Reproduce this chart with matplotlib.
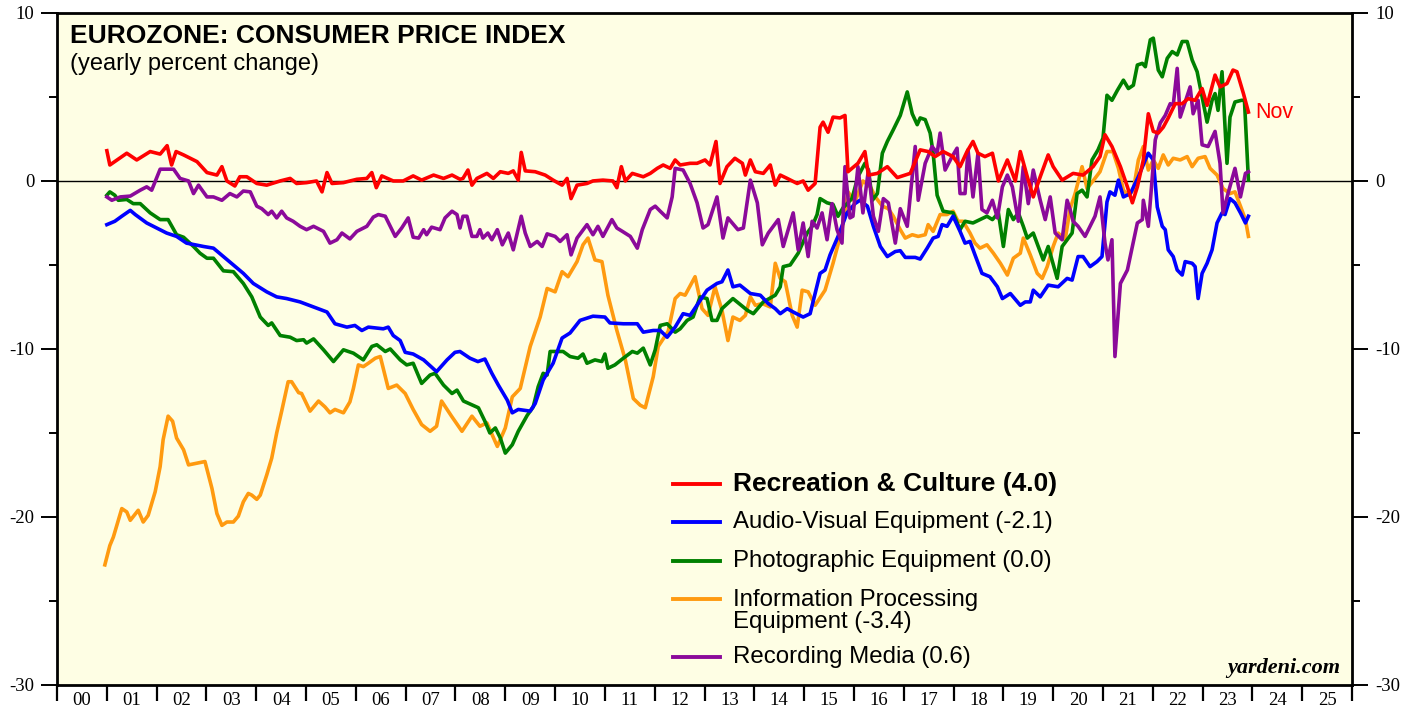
import matplotlib.pyplot as plt
from matplotlib.ticker import MultipleLocator

plt.rcParams["axes.unicode_minus"] = False
plt.rcParams["font.family"] = "serif"
plt.rcParams["font.serif"] = ["Liberation Serif", "DejaVu Serif"]

SANS = "Liberation Sans"

years = list(range(2000, 2026))
year_labels = [f"{y % 100:02d}" for y in years]

# Recreation & Culture
rec_x = [2001.00, 2001.06, 2001.40, 2001.60, 2001.87, 2002.07, 2002.21, 2002.30, 2002.39, 2002.54,
         2002.81, 2003.01, 2003.21, 2003.31, 2003.41, 2003.57, 2003.67, 2003.81, 2004.01, 2004.21,
         2004.48, 2004.68, 2004.81, 2005.01, 2005.21, 2005.32, 2005.42, 2005.52, 2005.75, 2006.02,
         2006.22, 2006.32, 2006.41, 2006.52, 2006.75, 2006.95, 2007.15, 2007.32, 2007.56, 2007.76,
         2007.93, 2008.09, 2008.15, 2008.25, 2008.33, 2008.43, 2008.63, 2008.76, 2008.90, 2009.06,
         2009.16, 2009.26, 2009.32, 2009.40, 2009.60, 2009.80, 2009.96, 2010.14, 2010.24, 2010.32,
         2010.44, 2010.64, 2010.76, 2010.96, 2011.16, 2011.24, 2011.33, 2011.41, 2011.55, 2011.77,
         2011.91, 2012.05, 2012.17, 2012.31, 2012.41, 2012.51, 2012.71, 2012.85, 2013.01, 2013.11,
         2013.23, 2013.31, 2013.45, 2013.61, 2013.76, 2013.82, 2013.92, 2014.02, 2014.18, 2014.32,
         2014.42, 2014.52, 2014.66, 2014.86, 2014.98, 2015.08, 2015.22, 2015.32, 2015.38, 2015.48,
         2015.58, 2015.72, 2015.82, 2015.88, 2016.08, 2016.22, 2016.29, 2016.47, 2016.67, 2016.87,
         2017.13, 2017.33, 2017.49, 2017.63, 2017.79, 2017.99, 2018.13, 2018.27, 2018.39, 2018.49,
         2018.63, 2018.78, 2018.90, 2019.08, 2019.24, 2019.34, 2019.48, 2019.60, 2019.74, 2019.90,
         2020.00, 2020.18, 2020.40, 2020.60, 2020.80, 2020.94, 2021.04, 2021.18, 2021.35, 2021.49,
         2021.59, 2021.69, 2021.81, 2021.91, 2022.01, 2022.11, 2022.21, 2022.31, 2022.45, 2022.59,
         2022.71, 2022.85, 2022.99, 2023.09, 2023.25, 2023.35, 2023.49, 2023.61, 2023.69, 2023.82,
         2023.92]
rec_y = [1.8, 0.95, 1.65, 1.25, 1.75, 1.6, 2.1, 0.95, 1.75, 1.55,
         1.15, 0.5, 0.35, 0.85, 0.0, -0.3, 0.25, 0.25, -0.15, -0.25,
         0.0, 0.15, -0.15, -0.1, 0.0, -0.65, 0.5, -0.15, -0.1, 0.1,
         0.15, 0.5, -0.4, 0.3, 0.0, 0.0, 0.3, 0.05, 0.35, 0.15,
         0.35, 0.1, 0.15, 0.65, -0.25, 0.15, 0.45, 0.15, 0.55, 0.45,
         0.6, 0.05, 1.7, 0.6, 0.55, 0.35, 0.05, -0.25, 0.15, -1.05,
         -0.25, -0.15, 0.0, 0.05, 0.0, -0.4, 0.85, 0.0, 0.45, 0.25,
         0.45, 0.75, 0.95, 0.75, 1.25, 0.95, 1.05, 1.05, 1.25, 0.95,
         2.35, -0.15, 0.85, 1.35, 1.05, 0.35, 1.25, 0.55, 0.45, 0.95,
         -0.25, 0.35, 0.15, -0.15, 0.0, -0.55, -0.15, 3.2, 3.5, 2.9,
         3.8, 3.75, 3.9, 0.55, 1.05, 1.75, 0.35, 0.45, 0.85, 0.2,
         0.45, 1.85, 1.75, 1.45, 1.75, 1.45, 0.85, 1.75, 2.35, 1.65,
         1.45, 1.65, 0.0, 1.25, 0.0, 1.75, 0.25, -0.95, 0.25, 1.55,
         0.85, 0.05, 0.45, 0.35, 0.85, 1.45, 2.75, 2.05, 0.85, -0.35,
         -1.3, -0.35, 1.25, 4.0, 2.95, 2.85, 3.2, 3.75, 4.6, 4.6,
         4.9, 4.8, 5.5, 4.5, 6.3, 5.6, 5.8, 6.6, 6.5, 5.2,
         4.1]

# Audio-Visual Equipment
av_x = [2001.00, 2001.16, 2001.30, 2001.47, 2001.57, 2001.80, 2002.00, 2002.20, 2002.40, 2002.60,
        2002.94, 2003.14, 2003.34, 2003.54, 2003.74, 2003.94, 2004.21, 2004.41, 2004.61, 2004.88,
        2005.15, 2005.42, 2005.58, 2005.82, 2005.98, 2006.12, 2006.25, 2006.55, 2006.65, 2006.75,
        2006.89, 2006.99, 2007.15, 2007.36, 2007.62, 2007.83, 2007.99, 2008.09, 2008.29, 2008.45,
        2008.59, 2008.73, 2008.86, 2009.04, 2009.14, 2009.26, 2009.50, 2009.60, 2009.76, 2009.96,
        2010.14, 2010.30, 2010.50, 2010.76, 2011.00, 2011.10, 2011.37, 2011.65, 2011.77, 2011.97,
        2012.11, 2012.25, 2012.41, 2012.57, 2012.71, 2012.87, 2013.05, 2013.25, 2013.35, 2013.47,
        2013.57, 2013.71, 2013.92, 2014.12, 2014.28, 2014.42, 2014.52, 2014.66, 2014.78, 2014.98,
        2015.12, 2015.22, 2015.32, 2015.42, 2015.52, 2015.68, 2015.86, 2016.02, 2016.12, 2016.27,
        2016.39, 2016.53, 2016.67, 2016.83, 2016.93, 2017.03, 2017.23, 2017.33, 2017.47, 2017.59,
        2017.69, 2017.77, 2017.87, 2017.99, 2018.13, 2018.23, 2018.33, 2018.43, 2018.57, 2018.73,
        2018.88, 2018.98, 2019.14, 2019.34, 2019.44, 2019.54, 2019.60, 2019.74, 2019.90, 2020.10,
        2020.28, 2020.38, 2020.50, 2020.60, 2020.74, 2020.88, 2020.98, 2021.08, 2021.14, 2021.24,
        2021.31, 2021.41, 2021.55, 2021.71, 2021.85, 2021.91, 2022.01, 2022.09, 2022.19, 2022.25,
        2022.31, 2022.41, 2022.49, 2022.59, 2022.65, 2022.79, 2022.85, 2022.91, 2022.99, 2023.09,
        2023.19, 2023.29, 2023.39, 2023.45, 2023.55, 2023.65, 2023.76, 2023.86, 2023.92]
av_y = [-2.6, -2.4, -2.1, -1.75, -2.0, -2.5, -2.8, -3.1, -3.3, -3.7,
        -3.9, -4.0, -4.5, -5.0, -5.5, -6.1, -6.6, -6.9, -7.0, -7.2,
        -7.5, -7.8, -8.5, -8.7, -8.6, -8.9, -8.7, -8.8, -8.7, -9.2,
        -9.5, -10.2, -10.3, -10.65, -11.35, -10.65, -10.2, -10.15, -10.55, -10.75,
        -10.6, -11.45, -12.15, -13.05, -13.8, -13.6, -13.7, -13.25, -11.85, -10.85,
        -9.35, -9.05, -8.3, -8.05, -8.1, -8.45, -8.5, -8.5, -9.0, -8.9,
        -8.9, -9.3, -8.7, -7.9, -8.0, -7.3, -6.5, -6.1, -6.0, -5.3,
        -6.3, -6.2, -6.7, -6.8, -7.3, -7.6, -7.9, -7.6, -7.8, -8.1,
        -7.9, -6.7, -5.5, -5.3, -4.4, -3.3, -1.9, -1.35, -1.15, -1.5,
        -2.7, -3.9, -4.5, -4.2, -4.15, -4.55, -4.55, -4.65, -4.0, -3.4,
        -3.3, -2.6, -2.7, -2.1, -3.0, -3.7, -3.6, -4.4, -5.5, -5.7,
        -6.3, -7.0, -6.7, -7.4, -7.2, -7.2, -6.5, -6.9, -6.2, -6.3,
        -5.8, -5.9, -4.5, -4.5, -5.1, -4.8, -4.5, -1.25, -0.65, -0.85,
        0.05, -0.95, -0.75, 0.25, 1.25, 1.65, 1.25, -1.55, -2.7, -2.9,
        -4.1, -4.5, -5.3, -5.6, -4.8, -4.9, -5.1, -7.0, -5.5, -4.9,
        -4.1, -2.5, -1.9, -2.0, -1.05, -1.3, -1.9, -2.5, -2.1]

# Photographic Equipment
ph_x = [2001.00, 2001.06, 2001.16, 2001.23, 2001.40, 2001.53, 2001.67, 2001.87, 2002.07, 2002.23,
        2002.40, 2002.54, 2002.74, 2002.87, 2003.01, 2003.14, 2003.34, 2003.54, 2003.74, 2003.91,
        2004.08, 2004.24, 2004.31, 2004.48, 2004.68, 2004.81, 2004.95, 2005.01, 2005.15, 2005.35,
        2005.55, 2005.75, 2005.95, 2006.15, 2006.32, 2006.42, 2006.59, 2006.69, 2006.89, 2007.02,
        2007.15, 2007.32, 2007.49, 2007.59, 2007.76, 2007.93, 2008.03, 2008.16, 2008.46, 2008.59,
        2008.69, 2008.80, 2008.90, 2009.00, 2009.14, 2009.26, 2009.44, 2009.56, 2009.66, 2009.76,
        2009.84, 2009.90, 2010.16, 2010.30, 2010.46, 2010.56, 2010.64, 2010.80, 2010.94, 2011.00,
        2011.06, 2011.20, 2011.37, 2011.55, 2011.65, 2011.77, 2011.91, 2012.01, 2012.11, 2012.25,
        2012.41, 2012.51, 2012.65, 2012.77, 2012.91, 2013.05, 2013.15, 2013.25, 2013.35, 2013.57,
        2013.86, 2013.98, 2014.18, 2014.42, 2014.52, 2014.58, 2014.72, 2014.88, 2015.06, 2015.16,
        2015.26, 2015.32, 2015.46, 2015.58, 2015.68, 2015.78, 2015.96, 2016.08, 2016.22, 2016.29,
        2016.37, 2016.47, 2016.57, 2016.67, 2016.79, 2016.93, 2017.07, 2017.17, 2017.27, 2017.33,
        2017.43, 2017.53, 2017.59, 2017.67, 2017.79, 2017.99, 2018.13, 2018.23, 2018.39, 2018.67,
        2018.78, 2018.90, 2019.00, 2019.10, 2019.20, 2019.30, 2019.40, 2019.48, 2019.60, 2019.80,
        2019.90, 2020.08, 2020.18, 2020.28, 2020.38, 2020.48, 2020.58, 2020.68, 2020.78, 2020.90,
        2021.00, 2021.08, 2021.18, 2021.29, 2021.41, 2021.51, 2021.61, 2021.69, 2021.79, 2021.85,
        2021.95, 2022.01, 2022.11, 2022.19, 2022.29, 2022.39, 2022.49, 2022.59, 2022.69, 2022.79,
        2022.89, 2022.99, 2023.09, 2023.19, 2023.25, 2023.31, 2023.39, 2023.49, 2023.55, 2023.65,
        2023.78, 2023.84, 2023.92]
ph_y = [-0.85, -0.65, -0.85, -1.15, -1.1, -1.35, -1.35, -1.9, -2.3, -2.3,
        -3.2, -3.35, -3.9, -4.3, -4.6, -4.6, -5.35, -5.4, -6.1, -6.9,
        -8.1, -8.6, -8.45, -9.2, -9.3, -9.5, -9.45, -9.65, -9.4, -10.05,
        -10.75, -10.05, -10.25, -10.65, -9.85, -9.75, -10.15, -10.0, -10.65, -10.95,
        -10.85, -12.05, -11.55, -11.45, -12.15, -12.65, -12.45, -13.1, -13.5, -14.3,
        -15.0, -14.7, -15.3, -16.2, -15.7, -14.9, -13.95, -13.45, -12.25, -11.45,
        -11.55, -10.15, -10.15, -10.45, -10.55, -10.3, -10.85, -10.65, -10.75, -10.3,
        -11.15, -10.95, -10.55, -10.15, -10.25, -9.95, -10.95, -10.05, -8.6, -8.5,
        -9.0, -8.8, -8.3, -8.1, -6.9, -7.0, -8.3, -8.3, -7.6, -7.0,
        -7.7, -7.9, -7.2, -6.8, -6.3, -5.1, -5.0, -4.3, -3.1, -2.7,
        -2.0, -1.05, -1.3, -1.4, -2.1, -1.6, -1.05, 0.25, 1.05, 0.65,
        -1.15, -0.75, 1.65, 2.35, 3.05, 3.9, 5.3, 4.0, 3.35, 3.75,
        3.65, 2.85, 1.65, -0.85, -1.8, -1.9, -2.9, -2.4, -2.5, -2.1,
        -2.3, -1.9, -3.9, -1.7, -2.3, -1.9, -2.7, -3.4, -3.1, -4.7,
        -3.9, -5.8, -3.9, -3.5, -3.1, -0.75, -0.55, -0.95, 1.25, 1.85,
        2.55, 5.1, 4.8, 5.4, 6.0, 5.5, 5.7, 6.9, 7.0, 6.8,
        8.4, 8.5, 6.6, 6.2, 7.3, 7.7, 7.5, 8.3, 8.3, 7.2,
        6.5, 5.0, 3.5, 4.8, 5.2, 4.2, 6.5, 1.05, 3.8, 4.7,
        4.8, 4.8, 0.05]

# Information Processing Equipment
ip_x = [2000.96, 2001.06, 2001.13, 2001.30, 2001.40, 2001.47, 2001.63, 2001.73, 2001.83, 2001.97,
        2002.07, 2002.13, 2002.23, 2002.32, 2002.40, 2002.54, 2002.64, 2002.97, 2003.11, 2003.21,
        2003.31, 2003.41, 2003.54, 2003.64, 2003.74, 2003.84, 2003.91, 2004.01, 2004.08, 2004.21,
        2004.31, 2004.41, 2004.51, 2004.64, 2004.71, 2004.85, 2004.91, 2005.08, 2005.25, 2005.38,
        2005.48, 2005.58, 2005.75, 2005.88, 2005.95, 2006.05, 2006.15, 2006.25, 2006.39, 2006.49,
        2006.65, 2006.82, 2006.99, 2007.15, 2007.32, 2007.49, 2007.62, 2007.72, 2007.92, 2008.13,
        2008.33, 2008.49, 2008.63, 2008.84, 2009.00, 2009.14, 2009.30, 2009.50, 2009.70, 2009.84,
        2010.00, 2010.14, 2010.26, 2010.44, 2010.56, 2010.66, 2010.80, 2010.94, 2011.06, 2011.24,
        2011.41, 2011.57, 2011.71, 2011.81, 2011.97, 2012.07, 2012.27, 2012.41, 2012.51, 2012.61,
        2012.81, 2012.95, 2013.07, 2013.21, 2013.35, 2013.47, 2013.57, 2013.71, 2013.82, 2013.92,
        2014.02, 2014.16, 2014.32, 2014.42, 2014.52, 2014.62, 2014.76, 2014.86, 2014.96, 2015.08,
        2015.22, 2015.42, 2015.58, 2015.76, 2015.88, 2016.02, 2016.18, 2016.33, 2016.43, 2016.57,
        2016.69, 2016.79, 2016.93, 2017.03, 2017.17, 2017.29, 2017.43, 2017.49, 2017.59, 2017.73,
        2017.87, 2017.99, 2018.09, 2018.19, 2018.33, 2018.43, 2018.53, 2018.67, 2018.80, 2018.94,
        2019.08, 2019.20, 2019.34, 2019.40, 2019.54, 2019.68, 2019.78, 2019.88, 2020.00, 2020.10,
        2020.24, 2020.34, 2020.44, 2020.58, 2020.68, 2020.80, 2020.94, 2021.08, 2021.20, 2021.31,
        2021.41, 2021.51, 2021.61, 2021.71, 2021.81, 2021.91, 2022.01, 2022.11, 2022.21, 2022.31,
        2022.41, 2022.55, 2022.69, 2022.79, 2022.91, 2023.05, 2023.15, 2023.29, 2023.41, 2023.55,
        2023.65, 2023.76, 2023.86, 2023.92]
ip_y = [-22.85, -21.7, -21.2, -19.5, -19.7, -20.2, -19.6, -20.3, -19.9, -18.5,
        -17.0, -15.4, -14.0, -14.3, -15.3, -16.0, -16.9, -16.7, -18.3, -19.8,
        -20.5, -20.3, -20.3, -19.95, -19.1, -18.6, -18.7, -18.95, -18.7, -17.5,
        -16.5, -15.0, -13.7, -11.95, -11.95, -12.6, -12.65, -13.7, -13.1, -13.45,
        -13.8, -13.6, -13.8, -13.15, -12.35, -10.95, -11.05, -10.85, -10.55, -10.45,
        -12.35, -12.15, -12.65, -13.6, -14.5, -14.9, -14.6, -13.1, -14.0, -14.9,
        -14.0, -14.6, -14.4, -15.8, -14.7, -12.85, -12.35, -9.85, -8.1, -6.4,
        -6.6, -5.4, -5.7, -4.8, -3.8, -3.4, -4.7, -4.8, -6.8, -8.9,
        -10.65, -12.95, -13.35, -13.5, -11.65, -9.85, -8.95, -7.0, -6.7, -6.8,
        -5.7, -7.6, -8.0, -6.3, -7.7, -9.5, -8.1, -8.3, -8.0, -6.9,
        -7.4, -7.3, -7.5, -4.9, -5.8, -6.0, -8.0, -8.7, -6.5, -6.6,
        -7.4, -6.5, -4.9, -2.9, -0.65, -1.25, 0.0, -0.35, -0.95, -1.5,
        -1.65, -2.1, -2.9, -3.4, -3.2, -3.3, -3.2, -2.6, -3.0, -2.0,
        -2.0, -1.8, -2.4, -2.4, -3.1, -3.7, -4.0, -3.8, -4.3, -4.9,
        -5.6, -4.6, -4.3, -3.4, -4.4, -5.5, -5.8, -5.1, -3.9, -3.1,
        -3.5, -1.65, -0.75, 0.85, -0.45, 0.0, 0.55, 1.75, 1.75, 0.75,
        -0.55, -0.85, -0.55, 1.25, 2.05, 0.65, 1.25, 0.75, 1.55, 0.95,
        1.35, 1.25, 1.45, 0.85, 1.35, 1.45, 0.75, 0.35, -0.45, -0.75,
        -0.65, -1.5, -2.3, -3.3]

# Recording Media
rm_x = [2001.00, 2001.10, 2001.27, 2001.47, 2001.67, 2001.80, 2001.90, 2002.07, 2002.34, 2002.47,
        2002.64, 2002.74, 2002.84, 2003.01, 2003.14, 2003.31, 2003.47, 2003.61, 2003.74, 2003.88,
        2004.01, 2004.11, 2004.24, 2004.31, 2004.41, 2004.51, 2004.61, 2004.74, 2004.88, 2005.01,
        2005.15, 2005.35, 2005.48, 2005.62, 2005.72, 2005.88, 2006.02, 2006.22, 2006.35, 2006.45,
        2006.59, 2006.79, 2006.92, 2007.05, 2007.15, 2007.26, 2007.36, 2007.42, 2007.52, 2007.69,
        2007.79, 2007.93, 2008.03, 2008.09, 2008.15, 2008.23, 2008.33, 2008.43, 2008.49, 2008.55,
        2008.65, 2008.73, 2008.84, 2008.94, 2009.06, 2009.16, 2009.32, 2009.40, 2009.50, 2009.64,
        2009.74, 2009.84, 2010.00, 2010.10, 2010.24, 2010.32, 2010.44, 2010.64, 2010.76, 2010.86,
        2010.96, 2011.14, 2011.24, 2011.35, 2011.51, 2011.65, 2011.75, 2011.91, 2012.01, 2012.11,
        2012.25, 2012.35, 2012.41, 2012.57, 2012.71, 2012.85, 2012.97, 2013.07, 2013.25, 2013.37,
        2013.47, 2013.67, 2013.78, 2013.92, 2014.06, 2014.16, 2014.28, 2014.48, 2014.58, 2014.78,
        2014.88, 2014.98, 2015.08, 2015.16, 2015.26, 2015.36, 2015.46, 2015.56, 2015.66, 2015.76,
        2015.82, 2015.92, 2015.98, 2016.08, 2016.18, 2016.29, 2016.39, 2016.49, 2016.59, 2016.69,
        2016.83, 2016.93, 2017.07, 2017.23, 2017.29, 2017.43, 2017.57, 2017.67, 2017.73, 2017.83,
        2017.97, 2018.07, 2018.13, 2018.23, 2018.29, 2018.39, 2018.49, 2018.57, 2018.67, 2018.78,
        2018.88, 2018.98, 2019.08, 2019.18, 2019.30, 2019.40, 2019.50, 2019.60, 2019.74, 2019.84,
        2019.94, 2020.04, 2020.18, 2020.28, 2020.34, 2020.40, 2020.50, 2020.64, 2020.74, 2020.84,
        2020.94, 2021.04, 2021.10, 2021.18, 2021.24, 2021.35, 2021.49, 2021.59, 2021.69, 2021.79,
        2021.81, 2021.91, 2022.05, 2022.15, 2022.25, 2022.35, 2022.41, 2022.49, 2022.55, 2022.65,
        2022.75, 2022.81, 2022.91, 2022.99, 2023.11, 2023.25, 2023.35, 2023.41, 2023.51, 2023.65,
        2023.76, 2023.86, 2023.92]
rm_y = [-0.95, -1.15, -0.95, -0.9, -0.55, -0.35, -0.55, 0.7, 0.7, 0.15,
        0.0, -0.75, -0.25, -0.95, -0.95, -1.15, -0.75, -0.95, -0.6, -0.65,
        -1.5, -1.65, -2.0, -1.8, -2.2, -1.8, -2.2, -2.4, -2.7, -2.9,
        -2.7, -3.0, -3.7, -3.5, -3.1, -3.45, -3.0, -2.7, -2.15, -2.0,
        -2.1, -3.3, -2.8, -2.2, -3.35, -3.4, -2.9, -3.2, -2.75, -2.9,
        -2.2, -1.8, -2.0, -2.8, -2.1, -2.1, -3.3, -3.3, -2.9, -3.4,
        -3.1, -3.5, -2.9, -3.8, -3.1, -4.1, -2.1, -3.1, -3.9, -3.6,
        -3.9, -3.15, -3.3, -3.6, -3.2, -4.4, -3.4, -2.6, -3.2, -2.7,
        -3.3, -2.3, -2.8, -3.0, -3.3, -4.0, -2.9, -1.7, -1.5, -1.8,
        -2.2, -0.95, 0.75, 0.65, -0.15, -1.3, -2.8, -2.6, -0.95, -3.4,
        -2.2, -2.9, -2.8, 0.05, -1.3, -3.8, -3.1, -2.3, -3.9, -1.9,
        -4.1, -2.5, -4.5, -2.4, -2.8, -1.9, -3.5, -1.35, -2.9, -3.7,
        0.85, -2.2, -2.1, 0.85, -1.9, 0.65, -2.1, -3.0, -1.05, -1.3,
        -3.7, -1.65, -2.7, 2.05, -1.15, 1.05, 2.05, 1.65, 2.85, 0.65,
        1.45, 1.95, -0.75, -0.75, 1.85, -0.95, 1.65, -1.7, -1.9, -1.15,
        -2.2, -0.35, 0.35, -0.35, -2.4, 0.85, -1.35, 0.65, -1.15, -2.3,
        -0.95, -3.1, -3.5, -1.15, -1.7, -2.4, -2.7, -3.3, -2.7, -2.1,
        -0.95, -3.7, -4.7, -3.5, -10.45, -6.1, -5.3, -3.9, -2.5, -2.3,
        -1.15, -2.7, 2.45, 3.45, 3.9, 4.6, 4.5, 6.7, 3.8, 4.7,
        5.6, 4.0, 4.8, 2.15, 2.05, 2.95, 1.05, -1.9, -0.75, 0.75,
        -0.95, 0.45, 0.55]

series = [
    ("Information Processing\nEquipment (-3.4)", ip_x, ip_y, "#ff9a10"),
    ("Photographic Equipment (0.0)", ph_x, ph_y, "#008000"),
    ("Audio-Visual Equipment (-2.1)", av_x, av_y, "#0000ff"),
    ("Recording Media (0.6)", rm_x, rm_y, "#8b0a9a"),
    ("Recreation & Culture (4.0)", rec_x, rec_y, "#ff0000"),
]

fig = plt.figure(figsize=(14.19, 7.19), dpi=100)
ax = fig.add_axes([0.0402, 0.0473, 0.9126, 0.9347])
ax.set_facecolor("#fefee4")

ax.axhline(0, color="black", lw=1.0, zorder=1)
for label, xs, ys, color in series:
    ax.plot(xs, ys, color=color, lw=2.6, solid_joinstyle="round", zorder=2)

ax.set_xlim(2000, 2026)
ax.set_ylim(-30, 10)

for sp in ax.spines.values():
    sp.set_linewidth(2.0)

# y axis on both sides
ax.yaxis.set_major_locator(MultipleLocator(10))
ax.yaxis.set_minor_locator(MultipleLocator(5))
ax.tick_params(axis="y", which="both", direction="out", left=True, right=True,
               labelleft=True, labelright=True)
ax.tick_params(axis="y", which="major", length=11.5, width=1.4, pad=5, labelsize=13.5)
ax.tick_params(axis="y", which="minor", length=5.5, width=1.4)

# x axis: tick marks at year boundaries, labels mid-year
ax.set_xticks(range(2000, 2027))
ax.set_xticklabels([])
ax.set_xticks([y + 0.5 for y in years], minor=True)
ax.set_xticklabels(year_labels, minor=True)
ax.tick_params(axis="x", which="major", direction="out", length=11.5, width=1.6)
ax.tick_params(axis="x", which="minor", length=0, pad=5, labelsize=13.5)

ax.text(0.010, 0.983, "EUROZONE: CONSUMER PRICE INDEX", transform=ax.transAxes,
        ha="left", va="top", fontsize=19, fontweight="bold", family=SANS)
ax.text(0.010, 0.940, "(yearly percent change)", transform=ax.transAxes,
        ha="left", va="top", fontsize=17, family=SANS)

ax.annotate("Nov", xy=(rec_x[-1], rec_y[-1]), xytext=(5, 0), textcoords="offset points",
            ha="left", va="center", color="#ff0000", fontsize=15.5, family=SANS)

ax.text(0.9907, 0.010, "yardeni.com", transform=ax.transAxes, ha="right", va="bottom",
        fontsize=16, fontweight="bold", style="italic")

# legend drawn by hand so the two-line entry keeps its swatch on the first line
legend_rows = [
    ("Recreation & Culture (4.0)", "#ff0000", 0.299, 0.299, True),
    ("Audio-Visual Equipment (-2.1)", "#0000ff", 0.2426, 0.2426, False),
    ("Photographic Equipment (0.0)", "#008000", 0.1845, 0.1845, False),
    ("Information Processing\nEquipment (-3.4)", "#ff9a10", 0.128, 0.110, False),
    ("Recording Media (0.6)", "#8b0a9a", 0.0417, 0.0417, False),
]
for text, color, y_line, y_text, bold in legend_rows:
    ax.plot([0.4757, 0.512], [y_line, y_line], transform=ax.transAxes, color=color, lw=2.8)
    ax.text(0.522, y_text, text, transform=ax.transAxes, ha="left", va="center",
            fontsize=19 if bold else 17.3, fontweight="bold" if bold else "normal",
            family=SANS, linespacing=1.0)

fig.savefig("out.png", dpi=100)
